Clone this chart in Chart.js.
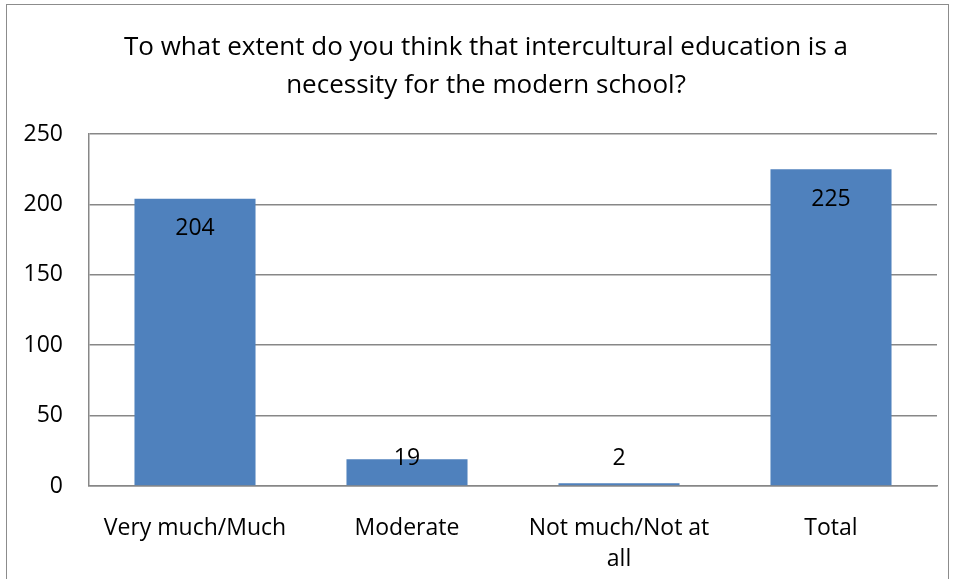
<!DOCTYPE html>
<html>
<head>
<meta charset="utf-8">
<script src="https://cdn.jsdelivr.net/npm/chart.js@4"></script>
<style>
  html, body { margin: 0; padding: 0; background: #fff; }
  #wrap { position: relative; width: 956px; height: 579px; overflow: hidden; }
  #frame { position: absolute; left: 6px; top: 4px; width: 943px; height: 600px; border: 1px solid #8c8c8c; box-sizing: border-box; }
  canvas { position: absolute; left: 0; top: 0; }
</style>
</head>
<body>
<div id="wrap">
  <div id="frame"></div>
  <canvas id="chartNecessity" width="956" height="579"></canvas>
</div>
<script>
// data
var categories = ['Very much/Much', 'Moderate', ['Not much/Not at', 'all'], 'Total'];
var answers = [204, 19, 2, 225];
var yTicks = [0, 50, 100, 150, 200, 250];

var fontName = '"Open Sans", Lato, sans-serif';
var gridGrey = '#878787';

// value labels, inside the top of the bar, or just above the axis for short bars
var valueLabels = {
  id: 'valueLabels',
  afterDatasetsDraw: function(chart) {
    var ctx = chart.ctx;
    var meta = chart.getDatasetMeta(0);
    ctx.save();
    ctx.font = '23px ' + fontName;
    ctx.fillStyle = '#000';
    ctx.textAlign = 'center';
    ctx.textBaseline = 'middle';
    meta.data.forEach(function(bar, i) {
      var y = Math.min(bar.y + 30, bar.base - 27);
      ctx.fillText(String(answers[i]), bar.x, y);
    });
    ctx.restore();
  }
};

// the title sits a bit right of the canvas centre in the original
var titleShift = {
  id: 'titleShift',
  afterLayout: function(chart) {
    if (chart.titleBlock) chart.titleBlock.left += 35;
  }
};

var ctx = document.getElementById('chartNecessity').getContext('2d');
var chartNecessity = new Chart(ctx, {
  type: 'bar',
  data: {
    labels: categories,
    datasets: [{
      label: 'Answers',
      backgroundColor: '#4F81BD',
      borderWidth: 0,
      categoryPercentage: 1,
      barPercentage: 0.571,
      data: answers
    }]
  },
  options: {
    responsive: false,
    animation: false,
    layout: { padding: { left: 0, right: 19, top: 0, bottom: 0 } },
    plugins: {
      legend: { display: false },
      tooltip: { enabled: false },
      title: {
        display: true,
        text: ['To what extent do you think that intercultural education is a', 'necessity for the modern school?'],
        color: '#000',
        font: { family: fontName, size: 26, weight: 'normal', lineHeight: 38 / 26 },
        padding: { top: 29, bottom: 29 }
      }
    },
    scales: {
      x: {
        grid: { display: false },
        border: { display: true, color: gridGrey, width: 1.5 },
        ticks: {
          color: '#000',
          padding: 19,
          maxRotation: 0,
          autoSkip: false,
          font: { family: fontName, size: 23, lineHeight: 31 / 23 }
        },
        afterFit: function(scale) { scale.height = 93; }
      },
      y: {
        min: 0,
        max: 250,
        afterBuildTicks: function(scale) {
          scale.ticks = yTicks.map(function(v) { return { value: v }; });
        },
        grid: { color: gridGrey, lineWidth: 1.5, drawTicks: false },
        border: { display: true, color: gridGrey, width: 1.5 },
        ticks: {
          color: '#000',
          padding: 26,
          font: { family: fontName, size: 23 }
        },
        afterFit: function(scale) { scale.width = 89; }
      }
    }
  },
  plugins: [valueLabels, titleShift]
});
</script>
</body>
</html>
